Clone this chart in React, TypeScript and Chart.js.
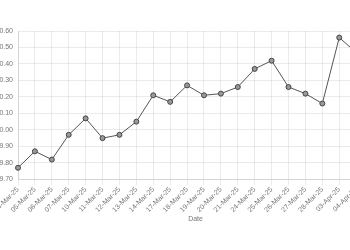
import React, { useEffect, useRef } from "react";
import { Chart, registerables } from "chart.js";

Chart.register(...registerables);

const dates = [
  "04-Mar-25", "05-Mar-25", "06-Mar-25", "07-Mar-25", "10-Mar-25", "11-Mar-25",
  "12-Mar-25", "13-Mar-25", "14-Mar-25", "17-Mar-25", "18-Mar-25", "19-Mar-25",
  "20-Mar-25", "21-Mar-25", "24-Mar-25", "25-Mar-25", "26-Mar-25", "27-Mar-25",
  "28-Mar-25", "03-Apr-25", "04-Apr-25", "07-Apr-25",
];
const prices = [
  9.77, 9.87, 9.82, 9.97, 10.07, 9.95, 9.97, 10.05, 10.21, 10.17, 10.27, 10.21,
  10.22, 10.26, 10.37, 10.42, 10.26, 10.22, 10.16, 10.56, 10.47, 10.40,
];
const yMin = 9.7;
const yMax = 10.6;
const yStep = 0.1;

export default function App() {
  const ref = useRef<HTMLCanvasElement | null>(null);
  useEffect(() => {
    if (!ref.current) return;
    const chart = new Chart(ref.current, {
      type: "line",
      data: {
        labels: dates,
        datasets: [
          {
            label: "Price",
            data: prices,
            borderColor: "#555",
            borderWidth: 1,
            pointRadius: 2.5,
            pointBackgroundColor: "#999",
            pointBorderColor: "#444",
            pointBorderWidth: 1,
            tension: 0,
            fill: false,
          },
        ],
      },
      options: {
        responsive: false,
        animation: false,
        layout: { padding: { top: 31, right: 0, bottom: 6.5, left: 0 } },
        plugins: { legend: { display: false }, tooltip: { enabled: false } },
        scales: {
          x: {
            grid: { color: "rgba(0,0,0,0.08)", drawTicks: true, tickLength: 6 },
            ticks: {
              color: "#777",
              font: { size: 7 },
              maxRotation: 45,
              minRotation: 45,
              autoSkip: false,
              padding: 0,
            },
            title: { display: true, text: "Date", color: "#777", font: { size: 7 }, padding: { top: 1, bottom: 4 } },
          },
          y: {
            min: yMin,
            max: yMax,
            grid: { color: "rgba(0,0,0,0.08)", drawTicks: false },
            ticks: {
              stepSize: yStep,
              color: "#777",
              font: { size: 7 },
              padding: 5,
              callback: (v: any) => Number(v).toFixed(2),
            },
            afterFit: (scale: any) => {
              scale.width = 33;
            },
          },
        },
      },
    });
    return () => chart.destroy();
  }, []);
  return (
    <div style={{ position: "absolute", left: -15, top: 0, width: 394, height: 234 }}>
      <canvas ref={ref} width={394} height={234} />
    </div>
  );
}
